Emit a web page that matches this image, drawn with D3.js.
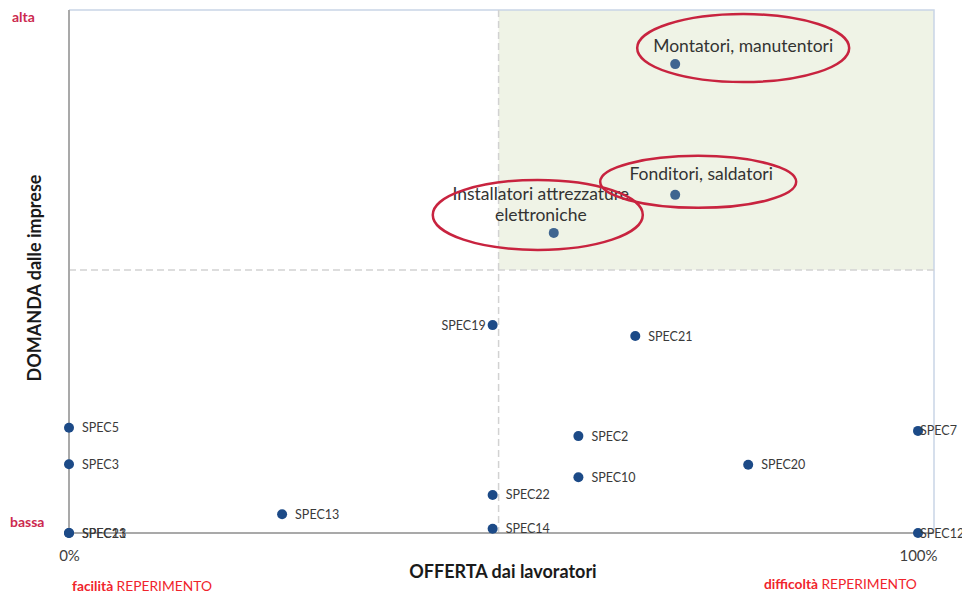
<!DOCTYPE html>
<html>
<head>
<meta charset="utf-8">
<script src="https://cdn.jsdelivr.net/npm/d3@7"></script>
<style>
  html, body { margin: 0; padding: 0; background: #fff; }
  svg { display: block; font-family: Lato, "Source Sans Pro", "Open Sans", sans-serif; }
</style>
</head>
<body>
<svg id="chart" width="962" height="595"></svg>
<script>
// ---- data ----
const names   = ["Montatori, manutentori", "Fonditori, saldatori", "Installatori attrezzature|elettroniche",
                 "SPEC19", "SPEC21", "SPEC5", "SPEC3", "SPEC2", "SPEC7", "SPEC20", "SPEC10",
                 "SPEC22", "SPEC13", "SPEC14", "SPEC23", "SPEC11", "SPEC12"];
const offerta = [0.714, 0.714, 0.571, 0.499, 0.667, 0.000, 0.000, 0.600, 1.000, 0.800, 0.600,
                 0.499, 0.251, 0.499, 0.000, 0.000, 1.000];
const domanda = [0.900, 0.649, 0.576, 0.399, 0.378, 0.202, 0.132, 0.186, 0.196, 0.131, 0.107,
                 0.073, 0.036, 0.008, 0.000, 0.000, 0.000];
const highlighted = [true, true, true, false, false, false, false, false, false, false, false,
                     false, false, false, false, false, false];
const xTickLabels = ["0%", "100%"];
const xTickValues = [0, 1];
const yLevelLabels = ["bassa", "alta"];
const meanOfferta = 0.506;
const meanDomanda = 0.505;

// ---- layout ----
const svg = d3.select("#chart");
const x = d3.scaleLinear().domain([0, 1]).range([69, 918]);
const y = d3.scaleLinear().domain([0, 1]).range([533, 12]);
const frameTop = 10, frameRight = 934;

// quadrant fill
svg.append("rect")
  .attr("x", x(meanOfferta)).attr("y", frameTop)
  .attr("width", frameRight - x(meanOfferta)).attr("height", y(meanDomanda) - frameTop)
  .attr("fill", "#eff3e6");

// frame (top/right)
svg.append("path")
  .attr("d", `M${x(0)},${frameTop}H${frameRight}V${y(0)}`)
  .attr("fill", "none").attr("stroke", "#c9d5e6").attr("stroke-width", 1.5);

// dashed mean lines
svg.append("line")
  .attr("x1", x(meanOfferta)).attr("x2", x(meanOfferta))
  .attr("y1", frameTop).attr("y2", y(0))
  .attr("stroke", "#d2d2d2").attr("stroke-width", 1.5).attr("stroke-dasharray", "7,4");
svg.append("line")
  .attr("x1", x(0)).attr("x2", frameRight)
  .attr("y1", y(meanDomanda)).attr("y2", y(meanDomanda))
  .attr("stroke", "#d2d2d2").attr("stroke-width", 1.5).attr("stroke-dasharray", "7,4");

// axes
const xAxis = d3.axisBottom(x).tickValues(xTickValues).tickFormat((d, i) => xTickLabels[i]).tickSize(0).tickPadding(17);
const gx = svg.append("g").attr("transform", `translate(0,${y(0)})`).call(xAxis);
gx.select(".domain").remove();
gx.selectAll("text").attr("font-size", 15).attr("fill", "#404040").attr("font-family", "Lato, sans-serif");
svg.append("line").attr("x1", x(0)).attr("x2", frameRight).attr("y1", y(0)).attr("y2", y(0))
  .attr("stroke", "#a9a9a9").attr("stroke-width", 2);
svg.append("line").attr("x1", x(0)).attr("x2", x(0)).attr("y1", frameTop).attr("y2", y(0))
  .attr("stroke", "#a9a9a9").attr("stroke-width", 2);

// level labels
svg.append("text").attr("x", 12).attr("y", 22).text(yLevelLabels[1])
  .attr("font-size", 14).attr("font-weight", "bold").attr("fill", "#cc2a4f");
svg.append("text").attr("x", 10).attr("y", 527).text(yLevelLabels[0])
  .attr("font-size", 14).attr("font-weight", "bold").attr("fill", "#cc2a4f");

// axis titles
svg.append("text").attr("x", 503).attr("y", 578).attr("text-anchor", "middle")
  .attr("font-size", 18).attr("font-weight", "bold").attr("fill", "#1a1a1a")
  .text("OFFERTA dai lavoratori");
svg.append("text").attr("transform", "translate(41,278) rotate(-90)").attr("text-anchor", "middle")
  .attr("font-size", 18).attr("font-weight", "bold").attr("fill", "#1a1a1a")
  .text("DOMANDA dalle imprese");

const t1 = svg.append("text").attr("x", 72).attr("y", 591).attr("font-size", 13.8).attr("fill", "#f0242c");
t1.append("tspan").attr("font-weight", "bold").text("facilità ");
t1.append("tspan").text("REPERIMENTO");
const t2 = svg.append("text").attr("x", 764).attr("y", 589).attr("font-size", 13.8).attr("fill", "#f0242c");
t2.append("tspan").attr("font-weight", "bold").text("difficoltà ");
t2.append("tspan").text("REPERIMENTO");

// data
const data = names.map((n, i) => ({ name: n, x: offerta[i], y: domanda[i], hi: highlighted[i] }));

// points
svg.append("g").selectAll("circle").data(data).join("circle")
  .attr("cx", d => x(d.x)).attr("cy", d => y(d.y)).attr("r", 5)
  .attr("fill", d => d.hi ? "#3f6590" : "#1c4a87");

// SPEC labels
const small = data.filter(d => !d.hi);
svg.append("g").selectAll("text").data(small).join("text")
  .attr("x", d => d.name === "SPEC19" ? x(d.x) - 7 : x(d.x) + (d.x >= 1 ? 2 : 13))
  .attr("y", d => y(d.y) + 4.5)
  .attr("text-anchor", d => d.name === "SPEC19" ? "end" : "start")
  .attr("font-size", 12.5).attr("fill", "#3a3a3a")
  .text(d => d.name);

// highlighted labels
const big = data.filter(d => d.hi);
const bigOffsets = [[68, -12], [26, -15], [-13, -12]];
big.forEach((d, i) => {
  const lines = d.name.split("|");
  const t = svg.append("text")
    .attr("x", x(d.x) + bigOffsets[i][0])
    .attr("y", y(d.y) + bigOffsets[i][1] - (lines.length - 1) * 21)
    .attr("text-anchor", "middle").attr("font-size", 17.5).attr("fill", "#333");
  lines.forEach((l, j) => {
    t.append("tspan").attr("x", x(d.x) + bigOffsets[i][0]).attr("dy", j === 0 ? 0 : 21).text(l);
  });
});

// ellipses
const ellOffsets = [[68, -16, 106, 34], [23, -13, 98, 26], [-16, -18, 105, 35]];
big.forEach((d, i) => {
  const o = ellOffsets[i];
  svg.append("ellipse")
    .attr("cx", x(d.x) + o[0]).attr("cy", y(d.y) + o[1])
    .attr("rx", o[2]).attr("ry", o[3])
    .attr("fill", "none").attr("stroke", "#c8233f").attr("stroke-width", 2.5);
});
</script>
</body>
</html>
